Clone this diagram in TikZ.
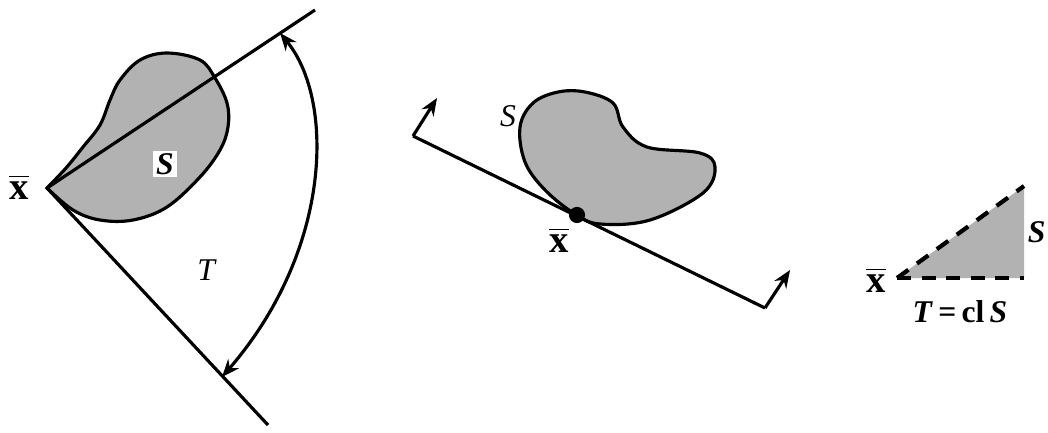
\documentclass[tikz,border=0pt]{standalone}
\usepackage{fontspec}
\setmainfont{Liberation Serif}
\usepackage{amsmath}
\usetikzlibrary{arrows.meta}
\begin{document}
\begin{tikzpicture}[x=0.1mm,y=-0.1mm,
  line width=0.9pt,
  shade/.style={fill=black!30},
  lbl/.style={inner sep=0pt,font=\fontsize{9}{10}\selectfont},
  xb/.style={inner sep=0pt,font=\fontsize{11}{12}\selectfont},
  tip/.style={-{Stealth[length=5pt,width=4pt]}},
  dtip/.style={{Stealth[length=5pt,width=4pt]}-{Stealth[length=5pt,width=4pt]}},
  dsh/.style={line width=1.2pt,dash pattern=on 4pt off 3pt}]
\useasboundingbox (0,0) rectangle (1048,432);
% ---------- panel 1 ----------
\coordinate (v1) at (47,188);
\coordinate (u1) at (315,10);
\coordinate (l1) at (268,425);
\coordinate (a1) at (280,33);
\coordinate (b1) at (222,377);
\draw[shade] plot[smooth,tension=0.6] coordinates {(47,188) (66,168) (83,147) (100,125) (110,100) (120,80) (140,60) (167,53) (200,60) (215,78) (227,103) (228,127) (220,150) (200,177) (167,207) (133,220) (100,220) (73,210) (47,188)} -- cycle;
\draw (v1) -- (u1);
\draw (v1) -- (l1);
\draw[dtip] (a1) .. controls (335,100) and (332,250) .. (b1);
\node[lbl,fill=white,inner sep=0.8pt] (s1) at (165,164) {\textbf{\textit{S}}};
\node[lbl] (t1) at (207,270) {\textit{T}};
\node[xb] (x1) at (19,187) {$\overline{\mathbf{x}}$};
% ---------- panel 2 ----------
\coordinate (p2a) at (413,136);
\coordinate (p2b) at (765,308);
\coordinate (q2a) at (437,98);
\coordinate (q2b) at (790,270);
\draw[shade] plot[smooth cycle,tension=0.6] coordinates {(520,127) (533,103) (558,92) (585,92) (613,103) (623,127) (647,147) (700,153) (715,167) (703,193) (650,220) (600,224) (575,214) (545,190) (525,162)};
\draw (p2a) -- (p2b);
\draw[tip] (p2a) -- (q2a);
\draw[tip] (p2b) -- (q2b);
\fill (577,215) circle (2.3pt) coordinate (d2);
\node[lbl] (s2) at (508,116) {\textit{S}};
\node[xb] (x2) at (559,240) {$\overline{\mathbf{x}}$};
% ---------- panel 3 ----------
\coordinate (v3) at (897,278);
\coordinate (r3) at (1024,186);
\coordinate (c3) at (1024,278);
\fill[black!30] (v3) -- (r3) -- (c3) -- cycle;
\draw[dsh] (v3) -- (r3);
\draw[dsh] (v3) -- (c3);
\node[xb] (x3) at (876,280) {$\overline{\mathbf{x}}$};
\node[lbl,anchor=east] (s3) at (1047,232) {\textbf{\textit{S}}};
\node[lbl] (t3) at (960,312) {\textbf{\textit{T}\,=\,cl\,\textit{S}}};
\end{tikzpicture}
\end{document}
